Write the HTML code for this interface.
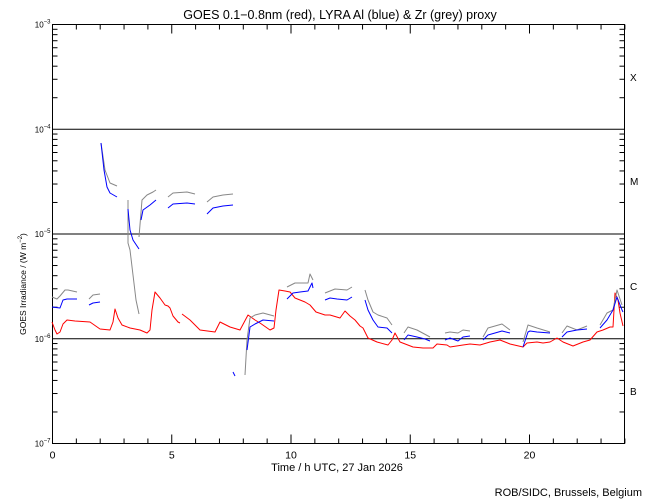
<!DOCTYPE html>
<html><head><meta charset="utf-8"><style>
html,body{margin:0;padding:0;background:#fff;width:650px;height:500px;overflow:hidden}
text{font-family:"Liberation Sans",sans-serif;fill:#000}
</style></head><body>
<svg id="s" width="650" height="500" xmlns="http://www.w3.org/2000/svg">
<rect width="650" height="500" fill="#fff"/>
<g id="ax" stroke="#000" stroke-width="1" fill="none"></g>
<g id="lb"></g>
<text x="340" y="19" font-size="12.5" text-anchor="middle">GOES 0.1−0.8nm (red), LYRA Al (blue) &amp; Zr (grey) proxy</text>
<text x="337" y="471" font-size="11" text-anchor="middle">Time / h UTC, 27 Jan 2026</text>
<text x="642" y="496" font-size="11" text-anchor="end">ROB/SIDC, Brussels, Belgium</text>
<text transform="translate(26,284) rotate(-90)" font-size="8.5" text-anchor="middle">GOES Irradiance / (W m<tspan font-size="6" dy="-4">−2</tspan><tspan dy="4">)</tspan></text>
<text x="630" y="81" font-size="10">X</text>
<text x="630" y="185" font-size="10">M</text>
<text x="630" y="290" font-size="10">C</text>
<text x="630" y="395" font-size="10">B</text>
<g id="dat" fill="none" stroke-width="1" stroke-linejoin="round"></g>
</svg>
<script>
var NS="http://www.w3.org/2000/svg";
function el(p,n,a){var e=document.createElementNS(NS,n);for(var k in a)e.setAttribute(k,a[k]);p.appendChild(e);return e;}
var ax=document.getElementById('ax'),lb=document.getElementById('lb'),dat=document.getElementById('dat');
var L=52.5,R=624.5,T=24.5,B=443.5,D=104.75;
el(ax,'rect',{x:L,y:T,width:R-L,height:B-T});
for(var d=0;d<4;d++){var y0=T+D*(d+1);
 for(var k=2;k<=9;k++){var y=y0-D*Math.log10(k);
  el(ax,'line',{x1:L,y1:y,x2:L+5,y2:y});el(ax,'line',{x1:R,y1:y,x2:R-5,y2:y});}
}
for(var d=0;d<=4;d++){var y=T+D*d;
 if(d>0&&d<4) el(ax,'line',{x1:L,y1:y,x2:R,y2:y});
 var t=el(lb,'text',{x:L-2,y:y+3,'font-size':'8','text-anchor':'end'});
 t.innerHTML='10<tspan font-size="6" dy="-4">−'+(3+d)+'</tspan>';
}
var px=23.85;
for(var h=0;h<=24;h++){var x=L+px*h,len=(h%5==0)?9:5;
 el(ax,'line',{x1:x,y1:B,x2:x,y2:B-len});el(ax,'line',{x1:x,y1:T,x2:x,y2:T+len});
 if(h%5==0){var t=el(lb,'text',{x:x,y:B+15,'font-size':'10.5','text-anchor':'middle'});t.textContent=h;}
}
function pl(c,pts){el(dat,'polyline',{points:pts,stroke:c});}
var red="52,322 55,330 57,334 60,332 63,324 67,320 75,321 90,322 100,329 110,330 113,322 115,309 118,318 122,325 130,328 140,330 147,333 150,330 152,310 155,292 160,298 165,305 168,306 170,308 173,316 178,322 180,323";
pl('#ff0000',red);
pl('#ff0000',"182,314 190,320 195,325 200,330 215,332 220,322 230,327 240,330 248,315 255,320 260,323 270,330 274,328 276,310 279,290 285,291 290,292 295,298 300,300 305,302 310,305 316,312 325,315 330,315 340,318 345,311 350,316 355,320 360,326 363,328 368,338 377,342 388,345 392,340 395,333 400,342 413,347 423,348 433,348 437,344 447,345 450,347 463,345 470,344 480,345 490,342 500,340 510,344 523,347 527,343 537,342 543,343 550,342 557,338 563,342 573,346 583,342 590,340 597,332 603,330 610,327 613,327 615,293 618,300 620,313 623,326");
var gr='#888888',bl='#0000ff';
["52,297 57,299 60,296 65,290 68,290 77,292","89,299 93,295 100,294","101,143 105,170 110,183 117,186","128,200 128,243 130,250 133,275 136,300 139,314","139,237 142,200 147,195 153,192 156,190","168,197 173,193 187,192 195,194","207,202 213,197 223,195 233,194","245,375 247,340 250,318 255,315 263,313 274,316","287,287 295,283 300,283 308,283 310,274 313,280","325,293 335,289 347,290 352,287","365,290 368,300 373,312 378,315 387,318 392,325","404,333 408,327 417,330 430,337","445,333 450,332 458,333 463,330 470,331","483,337 488,328 495,326 502,324 510,330","523,342 528,325 537,328 550,332","562,333 567,326 577,330 587,326","600,325 607,313 613,310 617,290 622,305"].forEach(function(p){pl(gr,p);});
["52,307 60,308 63,300 67,299 77,299","89,305 93,303 100,302","101,143 104,170 107,187 110,193 117,197","128,209 130,230 133,240 139,249","141,220 143,210 150,205 156,200","168,208 173,204 187,203 195,204","207,214 213,208 223,206 233,205","233,372 235,376","247,350 250,327 255,324 263,320 274,321","287,299 293,293 300,292 308,291 312,283 313,288","325,300 330,298 337,299 347,300 352,297","365,300 368,310 373,320 378,327 387,328 392,333","404,340 408,335 417,337 425,339 430,341","445,340 450,338 458,341 463,337 470,336","483,340 488,335 495,333 502,331 510,333","523,347 528,332 530,331 537,332 550,333","562,337 567,332 577,330 587,329","600,328 607,320 613,310 617,297 622,310 623,312"].forEach(function(p){pl(bl,p);});
</script>
</body></html>
